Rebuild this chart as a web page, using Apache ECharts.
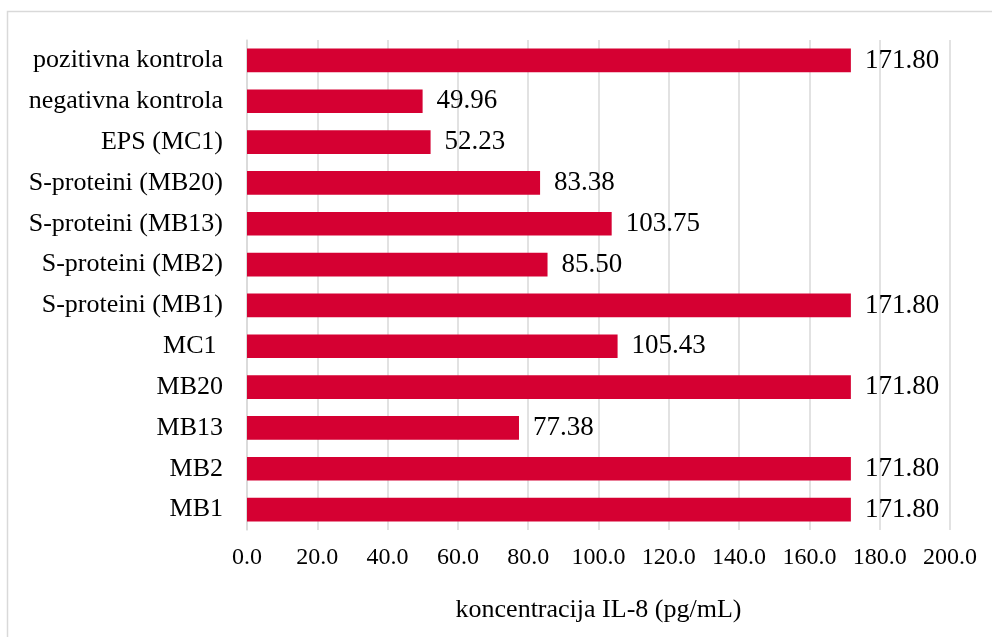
<!DOCTYPE html>
<html>
<head>
<meta charset="utf-8">
<script src="https://cdn.jsdelivr.net/npm/echarts@6/dist/echarts.min.js"></script>
<style>
	html, body { margin: 0; padding: 0; background: #fff; }
	#chart { width: 992px; height: 637px; }
</style>
</head>
<body>
<div id="chart"></div>
<script>
	// kategorije odozdo prema gore (ECharts crta prvu kategoriju dolje)
	var categories = ['MB1', 'MB2', 'MB13', 'MB20', 'MC1 ', 'S-proteini (MB1)', 'S-proteini (MB2)',
		'S-proteini (MB13)', 'S-proteini (MB20)', 'EPS (MC1)', 'negativna kontrola', 'pozitivna kontrola'];
	var values = [171.80, 171.80, 77.38, 171.80, 105.43, 171.80, 85.50, 103.75, 83.38, 52.23, 49.96, 171.80];
	var axisTitle = 'koncentracija IL-8 (pg/mL)';

	var font = '"Liberation Serif", "Times New Roman", serif';
	var myChart = echarts.init(document.getElementById('chart'));

	var option = {
		animation: false,
		textStyle: { fontFamily: font },
		graphic: [{
			type: 'rect',
			shape: { x: 7.5, y: 11.5, width: 1000, height: 700 },
			style: { fill: null, stroke: '#d9d9d9', lineWidth: 1.5 },
			silent: true
		}],
		grid: {
			left: 247,
			right: 42,
			top: 40,
			bottom: 107
		},
		xAxis: {
			type: 'value',
			min: 0,
			max: 200,
			interval: 20,
			name: axisTitle,
			nameLocation: 'middle',
			nameGap: 67,
			nameTextStyle: { fontFamily: font, fontSize: 26, color: '#000' },
			axisLine: { show: false },
			axisTick: { show: false },
			axisLabel: {
				fontFamily: font,
				fontSize: 24,
				color: '#000',
				margin: 16,
				formatter: function (v) { return v.toFixed(1); }
			},
			splitLine: { lineStyle: { color: '#d9d9d9', width: 1.5 } }
		},
		yAxis: {
			type: 'category',
			data: categories,
			axisLine: { show: true, lineStyle: { color: '#d9d9d9', width: 1.5 } },
			axisTick: { show: false },
			axisLabel: {
				fontFamily: font,
				fontSize: 26,
				color: '#000',
				margin: 24
			}
		},
		series: [{
			type: 'bar',
			data: values,
			barWidth: '58%',
			itemStyle: { color: '#d50032' },
			label: {
				show: true,
				position: 'right',
				distance: 14,
				fontFamily: font,
				fontSize: 27,
				color: '#000',
				formatter: function (p) { return p.value.toFixed(2); }
			}
		}]
	};
	myChart.setOption(option);
</script>
</body>
</html>
